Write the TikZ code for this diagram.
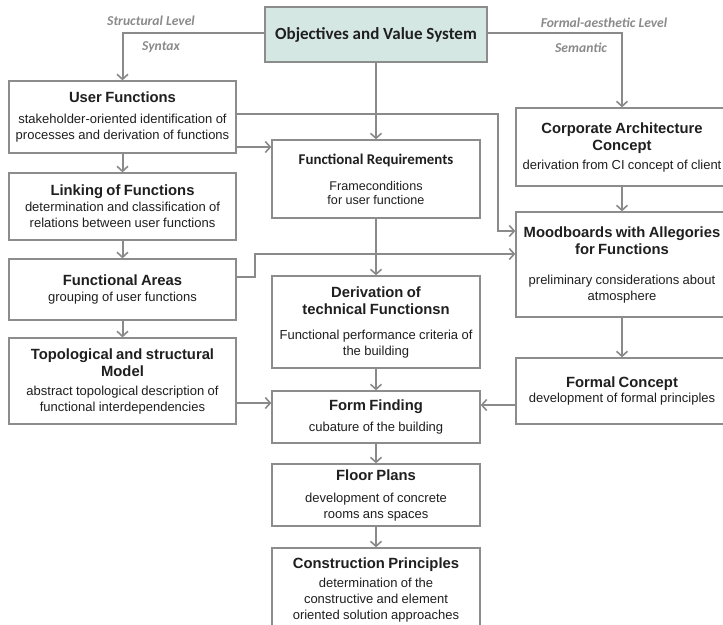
\documentclass[tikz,border=0pt]{standalone}
\usepackage{fontspec}
\setmainfont{Liberation Sans}
\newfontfamily\calib{Carlito}
\usetikzlibrary{arrows.meta}
\definecolor{lgray}{HTML}{8A8A8A}
\definecolor{bgray}{HTML}{8C8C8C}
\definecolor{teal0}{HTML}{D5E7E3}
\newcommand\tfnt{\fontsize{14.8pt}{17pt}\selectfont\bfseries}
\newcommand\subfnt{\fontsize{13pt}{16pt}\selectfont}
\newcommand\bx[3]{{\tfnt #1\par}\vspace{#2}{\subfnt #3\par}}
\begin{document}
\begin{tikzpicture}[x=1pt,y=-1pt,
  box/.style={draw=bgray,line width=1.3pt,fill=white,inner sep=0pt,align=center,text=black!88},
  lbox/.style={box,text width=227pt},
  mbox/.style={box,text width=208pt},
  rbox/.style={box,text width=212pt},
  conn/.style={draw=lgray,line width=2pt,-{Straight Barb[length=5pt,width=11pt,line width=1.6pt]}},
  lvl/.style={text=lgray,inner sep=0pt,font=\calib\fontsize{13.6pt}{16pt}\selectfont\bfseries\itshape}]
\useasboundingbox (0,0) rectangle (723,624);
\clip (0,0) rectangle (723,624);

% top
\node[box,fill=teal0,minimum width=222pt,minimum height=55pt] (obj) at (376,34.5)
  {\calib\fontsize{17pt}{20pt}\selectfont\bfseries Objectives and Value System};

% left column
\node[lbox,minimum height=72pt] (uf) at (122.5,117)
  {\bx{User Functions}{5pt}{stakeholder-oriented identification of\\processes and derivation of functions}};
\node[lbox,minimum height=67pt] (lof) at (122.5,206.5)
  {\bx{Linking of Functions}{0pt}{determination and classification of\\relations between user functions}};
\node[lbox,minimum height=61pt] (fa) at (122.5,289.5)
  {\bx{Functional Areas}{0pt}{grouping of user functions}};
\node[lbox,minimum height=86pt] (topo) at (122.5,381)
  {\bx{Topological and structural\\Model}{3pt}{abstract topological description of\\functional interdependencies}};

% middle column
\node[mbox,minimum height=78pt] (fr) at (376,179)
  {{\calib\fontsize{14.9pt}{17pt}\selectfont\bfseries Functional Requirements\par}\vspace{12pt}%
   {\fontsize{12.6pt}{14pt}\selectfont Frameconditions\\for user functione\par}};
\node[mbox,minimum height=92pt] (der) at (376,322)
  {\bx{Derivation of\\technical Functionsn}{9pt}{Functional performance criteria of\\the building}};
\node[mbox,minimum height=52pt] (ff) at (376,417)
  {\bx{Form Finding}{5pt}{cubature of the building}};
\node[mbox,minimum height=62pt] (fp) at (376,495)
  {\bx{Floor Plans}{6pt}{development of concrete\\rooms ans spaces}};
\node[mbox,minimum height=84pt] (cp) at (376,590)
  {\bx{Construction Principles}{3pt}{determination of the\\constructive and element\\oriented solution approaches}};

% right column
\node[rbox,minimum height=78pt] (cac) at (622,147)
  {\bx{Corporate Architecture\\Concept}{3pt}{derivation from CI concept of client}};
\node[rbox,minimum height=105pt] (mood) at (622,264.5)
  {\bx{Moodboards with Allegories\\for Functions}{14pt}{preliminary considerations about\\atmosphere}};
\node[rbox,minimum height=66pt] (fc) at (622,391)
  {\bx{Formal Concept}{-1pt}{development of formal principles}};

% level labels
\node[lvl] (sl) at (151,21) {Structural Level};
\node[lvl] (sy) at (161,47) {Syntax};
\node[lvl] (fl) at (604,23) {Formal-aesthetic Level};
\node[lvl] (se) at (581,48) {Semantic};

% connectors
\draw[conn] (obj.west |- 0,33) -| (uf.north);
\draw[conn] (obj.east |- 0,33) -| (cac.north);
\draw[conn] (obj) -- (fr);
\draw[conn] (uf.east |- 0,147) -- (fr.west |- 0,147);
\draw[conn] (uf.east |- 0,114) -| (498,231) -- (mood.west |- 0,231);
\draw[conn] (fa.east |- 0,277) -| (255,254) -- (mood.west |- 0,254);
\draw[conn] (uf) -- (lof);
\draw[conn] (lof) -- (fa);
\draw[conn] (fa) -- (topo);
\draw[conn] (topo.east |- 0,403) -- (ff.west |- 0,403);
\draw[conn] (fr) -- (der);
\draw[conn] (der) -- (ff);
\draw[conn] (ff) -- (fp);
\draw[conn] (fp) -- (cp);
\draw[conn] (cac) -- (mood);
\draw[conn] (mood) -- (fc);
\draw[conn] (fc.west |- 0,405) -- (ff.east |- 0,405);
\end{tikzpicture}
\end{document}
